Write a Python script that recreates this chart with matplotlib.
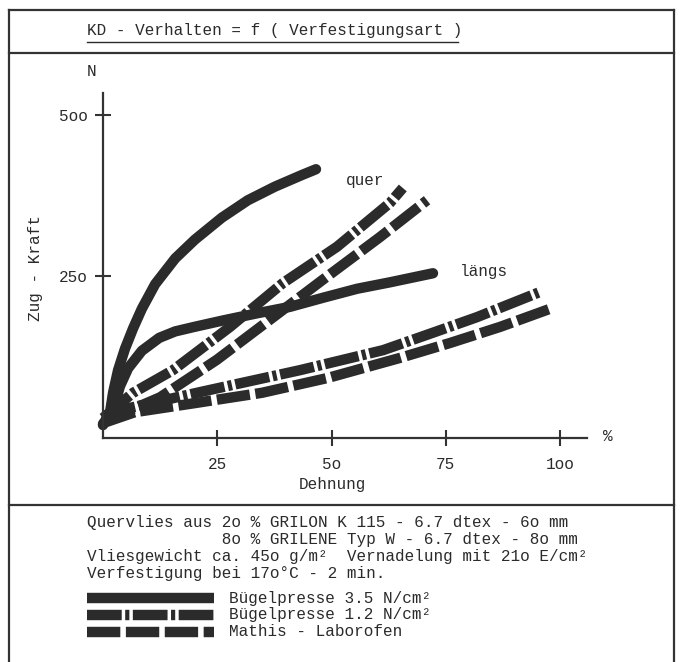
import matplotlib
matplotlib.use("Agg")
import matplotlib.pyplot as plt
from matplotlib.lines import Line2D

plt.rcParams['font.family'] = ['Liberation Mono', 'DejaVu Sans Mono']
plt.rcParams['lines.scale_dashes'] = False

# Dehnung (%) / Zug-Kraft (N)
quer_bp35_x = [0, 1.5, 2.2, 3.3, 4.8, 6.6, 8.5, 11.4, 15.8, 20.1, 26.0, 31.7, 37.6, 43.5, 46.6]
quer_bp35_y = [20, 38, 70, 105, 138, 170, 200, 238, 278, 307, 341, 368, 389, 407, 416]
laengs_bp35_x = [0, 1.5, 2.6, 3.7, 5.5, 8.5, 12.3, 15.8, 20.0, 26.3, 33.7, 40.9, 48.1, 55.6, 62.8, 72.2]
laengs_bp35_y = [22, 35, 52, 80, 108, 135, 155, 165, 172, 182, 193, 203, 217, 231, 241, 255]

quer_bp12_x = [0, 6.6, 15.3, 27.8, 39.4, 51.2, 62.8, 65.6]
quer_bp12_y = [31, 70, 105, 172, 240, 296, 364, 387]
laengs_bp12_x = [0, 5.5, 21.2, 43.1, 61.3, 72.2, 81.8, 95.6]
laengs_bp12_y = [28, 46, 71, 105, 136, 163, 187, 226]

quer_mathis_x = [0, 12.5, 24.9, 36.5, 48.1, 60.6, 70.9]
quer_mathis_y = [25, 63, 121, 183, 245, 311, 368]
laengs_mathis_x = [0, 7.0, 20.1, 34.8, 49.2, 65.0, 75.9, 86.9, 98.2]
laengs_mathis_y = [23, 40, 54, 70, 93, 124, 147, 172, 201]

xticks = [25, 50, 75, 100]
xticklabels = ['25', '5o', '75', '1oo']
yticks = [250, 500]
yticklabels = ['25o', '5oo']

legend_labels = ['Bügelpresse 3.5 N/cm²', 'Bügelpresse 1.2 N/cm²', 'Mathis - Laborofen']
caption = ['Quervlies aus 2o % GRILON K 115 - 6.7 dtex - 6o mm',
           '              8o % GRILENE Typ W - 6.7 dtex - 8o mm',
           'Vliesgewicht ca. 45o g/m²  Vernadelung mit 21o E/cm²',
           'Verfestigung bei 17o°C - 2 min.']

W, H = 681, 662
ink = '#2b2b2b'
fs = 11.5
dashdot = (25, 2.5, 3, 2.5)
dashed = (24, 4)

fig = plt.figure(figsize=(W / 100, H / 100), dpi=100)

def fx(px):
    return px / W

def fy(py):
    return 1 - py / H

# Rahmen
for (x0, y0, x1, y1) in [(9, 10, 674, 10), (9, 10, 9, 662), (674, 10, 674, 662),
                         (9, 53, 674, 53), (9, 505, 674, 505)]:
    fig.add_artist(Line2D([fx(x0), fx(x1)], [fy(y0), fy(y1)], color='#333333', lw=1.6))

fig.text(fx(87), fy(31), 'KD - Verhalten = f ( Verfestigungsart )', fontsize=fs,
         va='center', ha='left', color=ink)
fig.add_artist(Line2D([fx(87), fx(458)], [fy(42), fy(42)], color=ink, lw=1))

ax = fig.add_axes([fx(103), fy(438), (587 - 103) / W, (438 - 93) / H])
ax.set_xlim(0, 105.9)
ax.set_ylim(0, 534)
ax.patch.set_alpha(0)
for s in ['top', 'right']:
    ax.spines[s].set_visible(False)
for s in ['left', 'bottom']:
    ax.spines[s].set_linewidth(1.6)
    ax.spines[s].set_color('#333333')

ax.set_xticks(xticks)
ax.set_xticklabels(xticklabels)
ax.set_yticks(yticks)
ax.set_yticklabels(yticklabels)
ax.tick_params(direction='inout', length=12, width=1.5, color='#333333',
               labelsize=fs, labelcolor=ink)
ax.tick_params(axis='x', pad=8)
ax.tick_params(axis='y', pad=5)

ax.set_xlabel('Dehnung', fontsize=fs, color=ink)
ax.xaxis.set_label_coords((332 - 103) / 484, (438 - 477) / 345)
ax.set_ylabel('Zug - Kraft', fontsize=fs, color=ink)
ax.yaxis.set_label_coords((43 - 103) / 484, (438 - 268) / 345)

kw = dict(color=ink, lw=7.5, clip_on=False)
l1, = ax.plot(quer_bp35_x, quer_bp35_y, solid_capstyle='round', solid_joinstyle='round', **kw)
ax.plot(laengs_bp35_x, laengs_bp35_y, solid_capstyle='round', solid_joinstyle='round', **kw)
l2, = ax.plot(quer_bp12_x, quer_bp12_y, dashes=dashdot, dash_capstyle='butt', **kw)
ax.plot(laengs_bp12_x, laengs_bp12_y, dashes=dashdot, dash_capstyle='butt', **kw)
l3, = ax.plot(quer_mathis_x, quer_mathis_y, dashes=dashed, dash_capstyle='butt', **kw)
ax.plot(laengs_mathis_x, laengs_mathis_y, dashes=dashed, dash_capstyle='butt', **kw)

ax.text(57.3, 399, 'quer', fontsize=fs, ha='center', va='center', color=ink)
ax.text(83.4, 257, 'längs', fontsize=fs, ha='center', va='center', color=ink)
ax.text(-2.6, 567, 'N', fontsize=fs, ha='center', va='center', color=ink, clip_on=False)
ax.text(110.5, 2, '%', fontsize=fs, ha='center', va='center', color=ink, clip_on=False)

# Beschriftung unten
for i, line in enumerate(caption):
    fig.text(fx(87), fy(522 + i * 17.3), line, fontsize=fs, ha='left', va='center', color=ink)

for i, (h, lab) in enumerate(zip([l1, l2, l3], legend_labels)):
    y = fy(598 + i * 17)
    sw = Line2D([fx(87), fx(214)], [y, y], color=ink, lw=7.5,
                solid_capstyle='butt', dash_capstyle='butt')
    if h.get_linestyle() != '-':
        sw.set_dashes([dashdot, dashed][i - 1])
    fig.add_artist(sw)
    fig.text(fx(229), y, lab, fontsize=fs, ha='left', va='center', color=ink)

fig.savefig('out.png', dpi=100)
